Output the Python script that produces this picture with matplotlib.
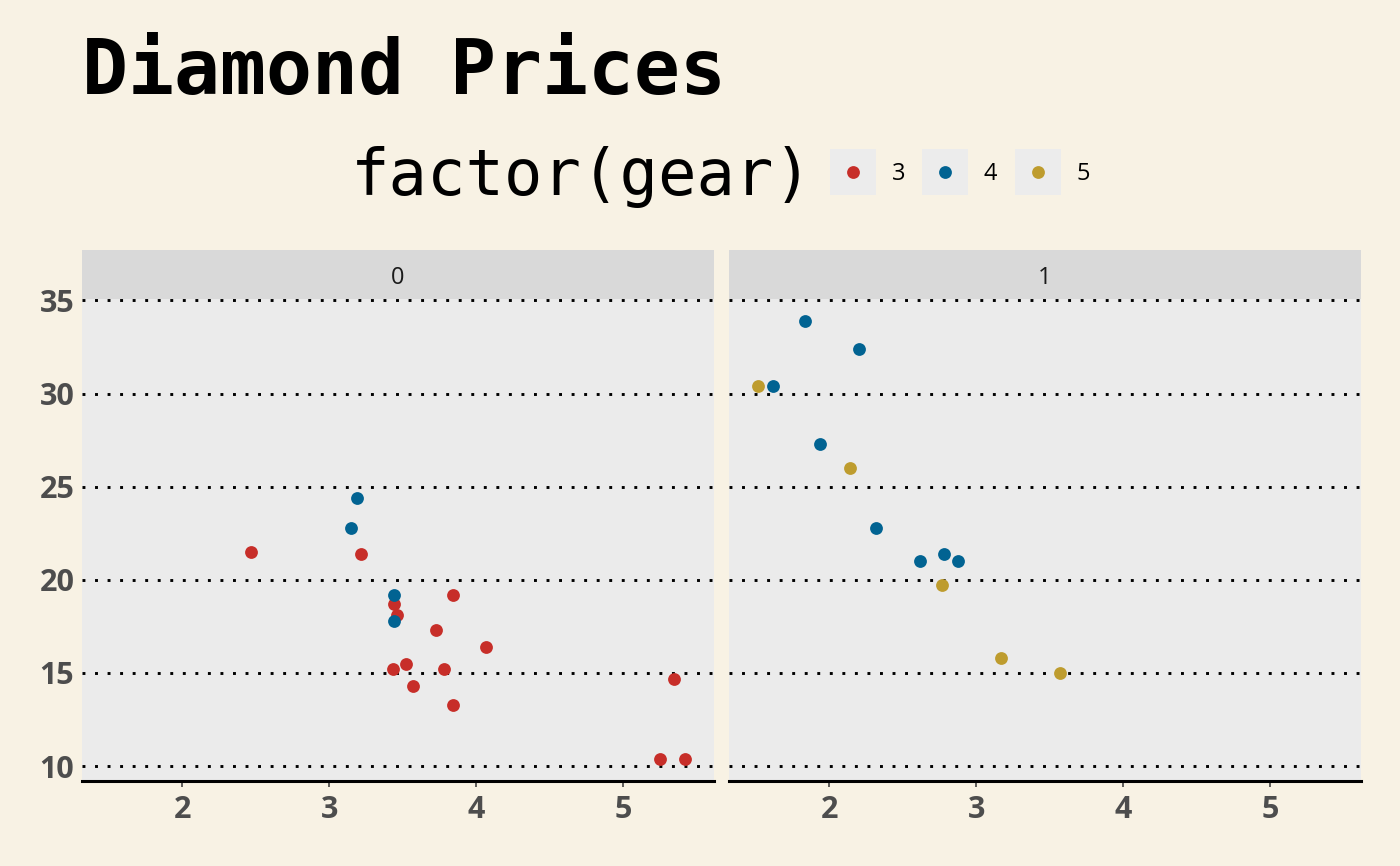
import matplotlib
matplotlib.use('Agg')
import matplotlib.pyplot as plt
from matplotlib.patches import Rectangle

# mtcars: weight, mpg, transmission (am) and gear
wt = [2.620, 2.875, 2.320, 3.215, 3.440, 3.460, 3.570, 3.190, 3.150, 3.440, 3.440,
      4.070, 3.730, 3.780, 5.250, 5.424, 5.345, 2.200, 1.615, 1.835, 2.465, 3.520,
      3.435, 3.840, 3.845, 1.935, 2.140, 1.513, 3.170, 2.770, 3.570, 2.780]
mpg = [21.0, 21.0, 22.8, 21.4, 18.7, 18.1, 14.3, 24.4, 22.8, 19.2, 17.8,
       16.4, 17.3, 15.2, 10.4, 10.4, 14.7, 32.4, 30.4, 33.9, 21.5, 15.5,
       15.2, 13.3, 19.2, 27.3, 26.0, 30.4, 15.8, 19.7, 15.0, 21.4]
am = [1, 1, 1, 0, 0, 0, 0, 0, 0, 0, 0, 0, 0, 0, 0, 0, 0, 1, 1, 1, 0, 0,
      0, 0, 0, 1, 1, 1, 1, 1, 1, 1]
gear = [4, 4, 4, 3, 3, 3, 3, 4, 4, 4, 4, 3, 3, 3, 3, 3, 3, 4, 4, 4, 3, 3,
        3, 3, 3, 4, 5, 5, 5, 5, 5, 4]

gear_levels = [3, 4, 5]
gear_colors = {3: '#C72E29', 4: '#016392', 5: '#BE9C2E'}
facets = [0, 1]
x_ticks = [2, 3, 4, 5]
y_ticks = [10, 15, 20, 25, 30, 35]

bg = '#F8F2E4'
W, H = 1400, 866

fig = plt.figure(figsize=(14, 8.66), dpi=100, facecolor=bg)

# ggplot-style expanded ranges
xmin, xmax = min(wt), max(wt)
ymin, ymax = min(mpg), max(mpg)
xpad = (xmax - xmin) * 0.05
ypad = (ymax - ymin) * 0.05

panel_left = [82, 729]
panel_w = 632
panel_top, panel_bottom = 299, 780.5
strip_top = 250

for i, f in enumerate(facets):
    ax = fig.add_axes([panel_left[i] / W, (H - panel_bottom) / H,
                       panel_w / W, (panel_bottom - panel_top) / H])
    ax.set_facecolor('#EBEBEB')
    for g in gear_levels:
        xs = [wt[k] for k in range(len(wt)) if am[k] == f and gear[k] == g]
        ys = [mpg[k] for k in range(len(wt)) if am[k] == f and gear[k] == g]
        ax.scatter(xs, ys, s=85, color=gear_colors[g], linewidths=0, zorder=3)
    ax.set_xlim(xmin - xpad, xmax + xpad)
    ax.set_ylim(ymin - ypad, ymax + ypad)
    ax.set_xticks(x_ticks)
    ax.set_yticks(y_ticks)
    ax.grid(axis='y', color='black', linewidth=2.1, linestyle=(0, (1, 3.3)), zorder=1)
    ax.grid(axis='x', visible=False)
    for s in ['top', 'left', 'right']:
        ax.spines[s].set_visible(False)
    ax.spines['bottom'].set_color('black')
    ax.spines['bottom'].set_linewidth(2.2)
    ax.tick_params(axis='x', length=4.3, width=1.1, color='#333333', pad=6.5,
                   labelsize=22, labelcolor='#4D4D4D')
    ax.tick_params(axis='y', length=0, pad=5.5, labelsize=22, labelcolor='#4D4D4D')
    for lab in ax.get_xticklabels() + ax.get_yticklabels():
        lab.set_fontfamily('Open Sans')
        lab.set_fontweight('bold')
    if i > 0:
        ax.set_yticklabels([])

    # facet strip
    sax = fig.add_axes([panel_left[i] / W, (H - panel_top) / H,
                        panel_w / W, (panel_top - strip_top) / H])
    sax.set_facecolor('#D9D9D9')
    sax.set_xticks([])
    sax.set_yticks([])
    for s in sax.spines.values():
        s.set_visible(False)
    sax.text(0.5, 0.42, str(f), ha='center', va='center', fontsize=17,
             family='Open Sans', color='#1A1A1A', transform=sax.transAxes)

# title
fig.text(82 / W, 1 - 94 / H, 'Diamond Prices', family='DejaVu Sans Mono',
         weight='bold', fontsize=55, va='baseline', ha='left')

# legend
fig.text(351 / W, 1 - 195 / H, 'factor(gear)', family='DejaVu Sans Mono',
         fontsize=46, va='baseline', ha='left')
lax = fig.add_axes([0, 0, 1, 1])
lax.set_xlim(0, W)
lax.set_ylim(H, 0)
lax.axis('off')
key_x = [830, 922, 1015]
for kx, g in zip(key_x, gear_levels):
    lax.add_patch(Rectangle((kx, 149), 46, 46, facecolor='#ECECEC', edgecolor='none'))
    lax.scatter([kx + 23], [172], s=85, color=gear_colors[g], linewidths=0)
    lax.text(kx + 62, 174, str(g), fontsize=17, family='Open Sans',
             va='center', ha='left', color='black')

fig.savefig('out.png', dpi=100, facecolor=bg)
